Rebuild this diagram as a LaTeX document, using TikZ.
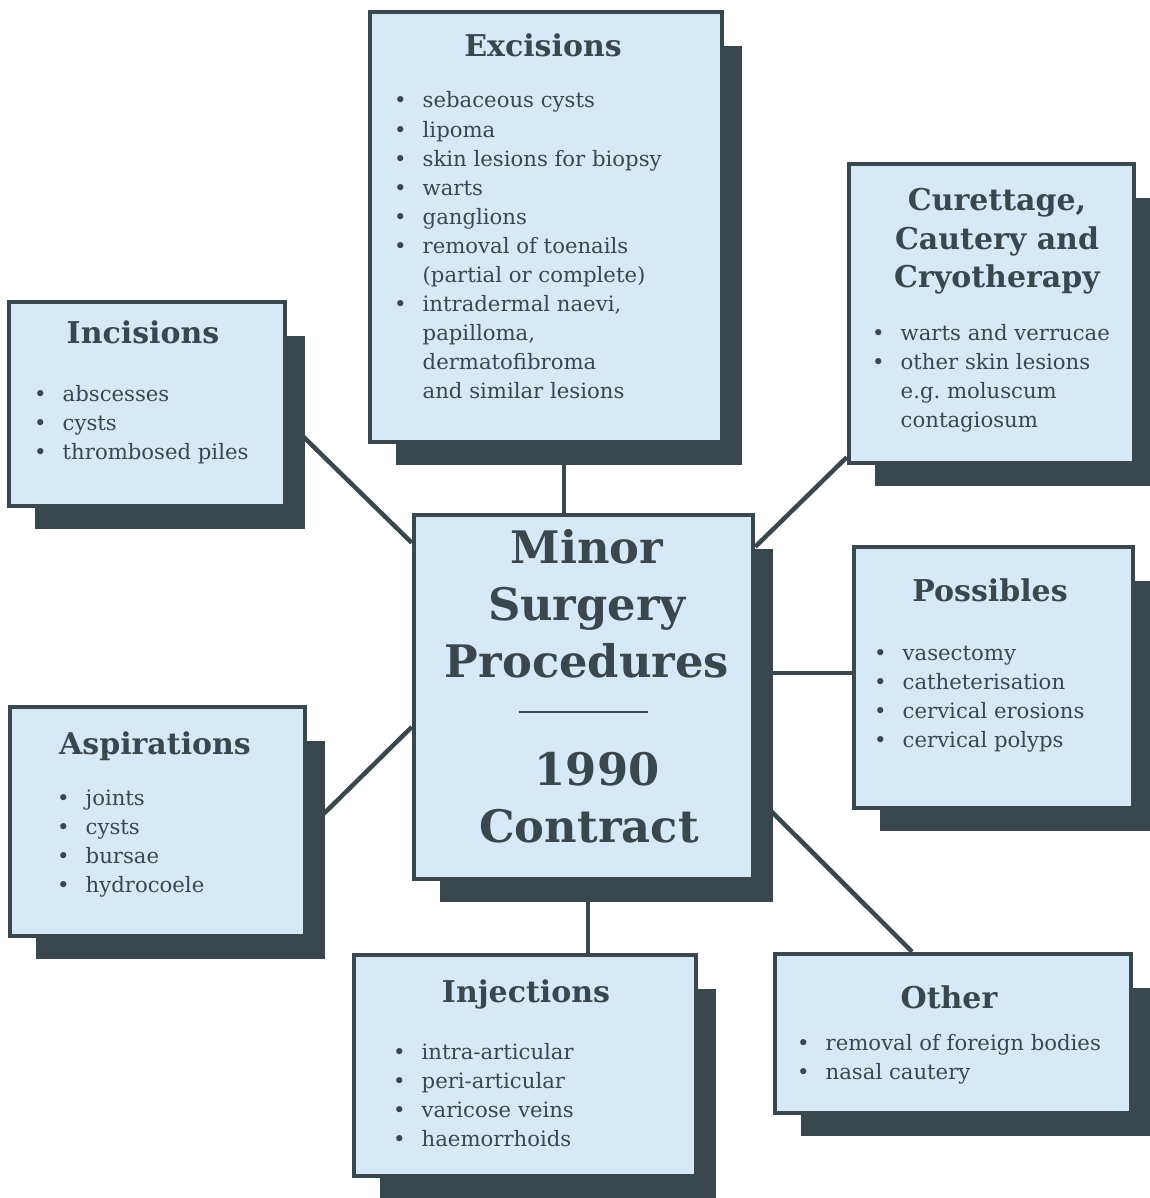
\documentclass[tikz,border=0pt]{standalone}
\usepackage{fontspec}
\setmainfont{DejaVu Serif}
\usetikzlibrary{calc}

\definecolor{paleblue}{RGB}{214,233,247}
\definecolor{slate}{RGB}{58,72,78}

\pgfdeclarelayer{back}
\pgfdeclarelayer{shade}
\pgfsetlayers{back,shade,main}

\newcommand{\dropshadow}[1]{%
  \begin{pgfonlayer}{shade}
    \fill[slate] ($(#1.north west)+(28,36)$) rectangle ($(#1.south east)+(18,21)$);
  \end{pgfonlayer}}

\tikzset{
  panel/.style={draw=slate, line width=4.5pt, fill=paleblue, inner sep=0pt},
  head/.style={anchor=base, text=slate, inner sep=0pt, font=\fontsize{30}{38.5}\selectfont\bfseries},
  items/.style={anchor=base west, text=slate, inner sep=0pt, font=\fontsize{21.2}{29.1}\selectfont},
  link/.style={draw=slate, line width=4.5pt},
}

\begin{document}
\begin{tikzpicture}[x=1pt,y=-1pt]
  \useasboundingbox (0,0) rectangle (1149,1198);
  \begin{pgfonlayer}{back}
    \fill[white] (0,0) rectangle (1149,1198);
  \end{pgfonlayer}

  \node[panel, minimum width=339pt, minimum height=364pt] (mid) at (583.5,697) {};
  \node[panel, minimum width=352pt, minimum height=430pt] (exc) at (546,227) {};
  \node[panel, minimum width=285pt, minimum height=299pt] (cur) at (991.5,313.5) {};
  \node[panel, minimum width=276pt, minimum height=204pt] (inc) at (147,404) {};
  \node[panel, minimum width=279pt, minimum height=261pt] (pos) at (993.5,677.5) {};
  \node[panel, minimum width=295pt, minimum height=229pt] (asp) at (157.5,821.5) {};
  \node[panel, minimum width=342pt, minimum height=221pt] (inj) at (525,1065.5) {};
  \node[panel, minimum width=356pt, minimum height=159pt] (oth) at (953,1033.5) {};

  \dropshadow{mid}
  \dropshadow{exc}
  \dropshadow{cur}
  \dropshadow{inc}
  \dropshadow{pos}
  \dropshadow{asp}
  \dropshadow{inj}
  \dropshadow{oth}

  \begin{pgfonlayer}{back}
    \draw[link] ($(exc.south)+(18,0)$) -- ($(mid.north)+(-19.5,0)$);
    \draw[link] ($(inc.east)+(0,17)$) -- ($(mid.north west)+(0,30)$);
    \draw[link] ($(cur.south west)+(0,-8)$) -- ($(mid.north east)+(0,34)$);
    \draw[link] ($(mid.east)+(0,-24)$) -- ($(pos.west)+(0,-4.5)$);
    \draw[link] ($(asp.east)+(0,8.5)$) -- ($(mid.west)+(0,30)$);
    \draw[link] ($(mid.south)+(4.5,0)$) -- ($(inj.north)+(63,0)$);
    \draw[link] ($(mid.south east)+(0,-86)$) -- ($(oth.north)+(-41,0)$);
  \end{pgfonlayer}

  \node[head, font=\fontsize{44.8}{57}\selectfont\bfseries] (mid-h) at (587,563)
    {\begin{tabular}[t]{@{}c@{}}Minor\\Surgery\\Procedures\end{tabular}};
  \node[inner sep=0pt, text=slate] (mid-r) at (583,712) {\rule{129pt}{2.5pt}};
  \node[head, font=\fontsize{44.8}{57}\selectfont\bfseries] (mid-y) at (589,785)
    {\begin{tabular}[t]{@{}c@{}}\hspace*{16pt}1990\\Contract\end{tabular}};

  \node[head] (exc-h) at (543,57) {Excisions};
  \node[items] (exc-l) at (394,108) {\begin{tabular}[t]{@{}l@{\hspace{16pt}}l@{}}
    \textbullet & sebaceous cysts\\
    \textbullet & lipoma\\
    \textbullet & skin lesions for biopsy\\
    \textbullet & warts\\
    \textbullet & ganglions\\
    \textbullet & removal of toenails\\
                & (partial or complete)\\
    \textbullet & intradermal naevi,\\
                & papilloma,\\
                & dermatofibroma\\
                & and similar lesions
  \end{tabular}};

  \node[head] (cur-h) at (997,211)
    {\begin{tabular}[t]{@{}c@{}}Curettage,\\Cautery and\\Cryotherapy\end{tabular}};
  \node[items] (cur-l) at (872,340) {\begin{tabular}[t]{@{}l@{\hspace{16pt}}l@{}}
    \textbullet & warts and verrucae\\
    \textbullet & other skin lesions\\
                & e.g.\ moluscum\\
                & contagiosum
  \end{tabular}};

  \node[head] (inc-h) at (143,343) {Incisions};
  \node[items] (inc-l) at (34,401) {\begin{tabular}[t]{@{}l@{\hspace{16pt}}l@{}}
    \textbullet & abscesses\\
    \textbullet & cysts\\
    \textbullet & thrombosed piles
  \end{tabular}};

  \node[head] (pos-h) at (990,601) {Possibles};
  \node[items] (pos-l) at (874,660) {\begin{tabular}[t]{@{}l@{\hspace{16pt}}l@{}}
    \textbullet & vasectomy\\
    \textbullet & catheterisation\\
    \textbullet & cervical erosions\\
    \textbullet & cervical polyps
  \end{tabular}};

  \node[head] (asp-h) at (155,754) {Aspirations};
  \node[items] (asp-l) at (57,805) {\begin{tabular}[t]{@{}l@{\hspace{16pt}}l@{}}
    \textbullet & joints\\
    \textbullet & cysts\\
    \textbullet & bursae\\
    \textbullet & hydrocoele
  \end{tabular}};

  \node[head] (inj-h) at (526,1002) {Injections};
  \node[items] (inj-l) at (393,1059) {\begin{tabular}[t]{@{}l@{\hspace{16pt}}l@{}}
    \textbullet & intra-articular\\
    \textbullet & peri-articular\\
    \textbullet & varicose veins\\
    \textbullet & haemorrhoids
  \end{tabular}};

  \node[head] (oth-h) at (949,1008) {Other};
  \node[items] (oth-l) at (797,1050) {\begin{tabular}[t]{@{}l@{\hspace{16pt}}l@{}}
    \textbullet & removal of foreign bodies\\
    \textbullet & nasal cautery
  \end{tabular}};
\end{tikzpicture}
\end{document}
